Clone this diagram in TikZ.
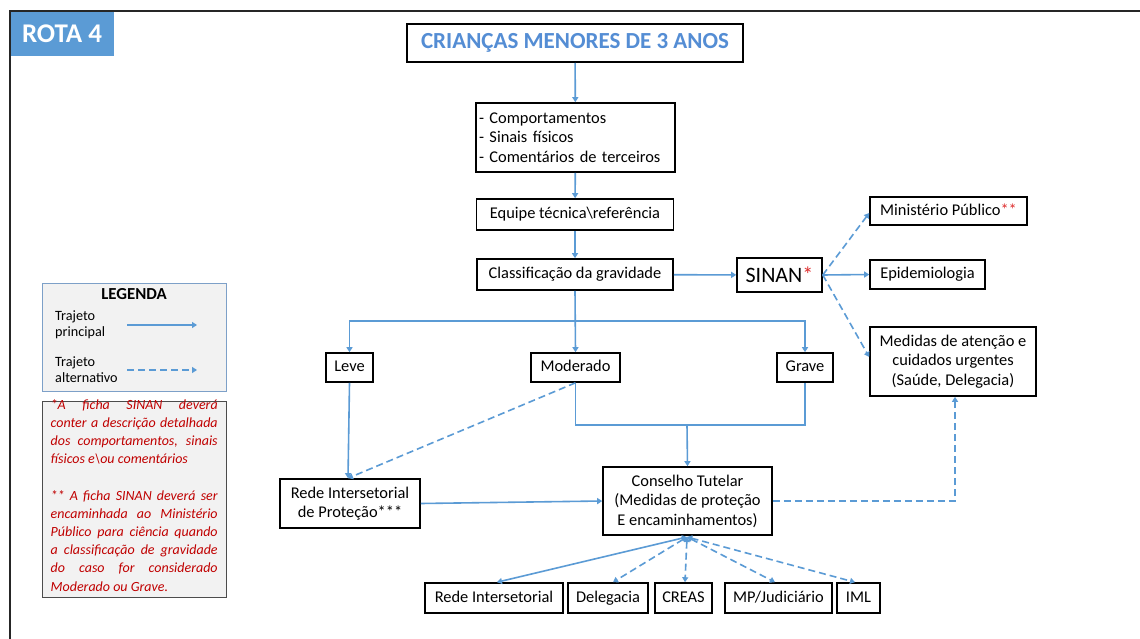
\documentclass[tikz,border=0pt]{standalone}
\usepackage{fontspec}
\setmainfont{Carlito}
\usetikzlibrary{arrows.meta}
\definecolor{lblue}{RGB}{91,155,213}
\definecolor{tblue}{RGB}{84,141,212}
\definecolor{ared}{RGB}{222,45,45}
\definecolor{nred}{RGB}{192,0,0}
\definecolor{lgray}{RGB}{242,242,242}
\definecolor{legborder}{RGB}{125,160,200}
\begin{document}
\hyphenpenalty=10000
\exhyphenpenalty=10000
\begin{tikzpicture}[x=1pt,y=-1pt,
  box/.style={draw=black, line width=1.6pt, fill=white, inner sep=0pt, align=center,
    font=\fontsize{16.4}{19.5}\selectfont, text=black},
  one/.style={box, text height=11.5pt, text depth=3.5pt},
  line/.style={draw=lblue, line width=1.6pt},
  arr/.style={line, -{Triangle[width=6pt,length=5pt]}},
  darr/.style={arr, dash pattern=on 7pt off 4pt},
  dbl/.style={line, {Triangle[width=6pt,length=5pt]}-{Triangle[width=6pt,length=5pt]}},
  ddbl/.style={dbl, dash pattern=on 7pt off 4pt}]
\useasboundingbox (0,0) rectangle (1140,639);
\fill[white] (0,0) rectangle (1140,639);
% frame
\draw[line width=2pt, black!85] (10,639) -- (10,11) -- (1140,11);
% ROTA 4
\node[fill=lblue, minimum width=103pt, minimum height=44pt, inner sep=0pt,
  text=white, font=\fontsize{27}{30}\selectfont\bfseries] (rota) at (62,34) {ROTA 4};
% title
\node[box, line width=2pt, minimum width=336pt, minimum height=38pt, text=tblue,
  font=\fontsize{23}{26}\selectfont\bfseries] (title) at (575,43) {CRIANÇAS MENORES DE 3 ANOS};
\node[box, minimum width=199pt, minimum height=69pt, align=left, text width=193pt] (comp) at (575.5,137.5)
  {- Comportamentos\\- Sinais físicos\\- Comentários de terceiros};
\node[one, minimum width=197pt, minimum height=31pt] (equipe) at (575,214.5) {Equipe técnica\textbackslash{}referência};
\node[one, minimum width=196pt, minimum height=31pt] (class) at (575,274.5) {Classificação da gravidade};
\node[box, minimum width=85pt, minimum height=34pt, font=\fontsize{22}{25}\selectfont] (sinan) at (779.5,275)
  {SINAN{\color{ared}*}};
\node[one, minimum width=157pt, minimum height=28pt] (mp) at (948.5,211) {Ministério Público{\color{ared}**}};
\node[one, minimum width=115pt, minimum height=29pt] (epi) at (927.5,274.5) {Epidemiologia};
\node[box, minimum width=166pt, minimum height=69pt] (med) at (953,361.5)
  {Medidas de atenção e\\cuidados urgentes\\(Saúde, Delegacia)};
\node[one, minimum width=47pt, minimum height=29pt] (leve) at (349.5,367.5) {Leve};
\node[one, minimum width=89pt, minimum height=29pt] (mod) at (575.5,367.5) {Moderado};
\node[one, minimum width=56pt, minimum height=29pt] (grave) at (805,367.5) {Grave};
\node[box, minimum width=140pt, minimum height=49pt] (rede) at (350,503.5)
  {Rede Intersetorial\\de Proteção***};
\node[box, minimum width=169pt, minimum height=68pt] (cons) at (687.5,501)
  {Conselho Tutelar\\(Medidas de proteção\\E encaminhamentos)};
\node[one, minimum width=138pt, minimum height=30pt] (ri) at (494,598) {Rede Intersetorial};
\node[one, minimum width=80pt, minimum height=30pt] (del) at (608,598) {Delegacia};
\node[one, minimum width=57pt, minimum height=30pt] (creas) at (683.5,598) {CREAS};
\node[one, minimum width=107pt, minimum height=30pt] (mpj) at (778.5,598) {MP/Judiciário};
\node[one, minimum width=43pt, minimum height=30pt] (iml) at (858.5,598) {IML};
% connectors
\draw[arr] (title) -- (comp);
\draw[arr] (comp) -- (equipe);
\draw[arr] (equipe) -- (class);
\draw[arr] (class) -- (sinan);
\draw[darr] (sinan.east) -- ([yshift=-2pt]mp.west);
\draw[arr] (sinan.east) -- (epi.west);
\draw[darr] (sinan.east) -- ([yshift=4.5pt]med.west);
\coordinate (br) at (575,321);
\draw[arr] (class.south) -- (mod.north);
\draw[arr] (br) -| (leve.north);
\draw[arr] (br) -| (grave.north);
\coordinate (jn) at (687,425);
\draw[line] (mod.south) |- (grave.south |- jn) -- (grave.south);
\draw[arr] (jn) -- (cons.north);
\draw[arr] (leve.south) -- ([xshift=-2pt]rede.north);
\draw[darr] (mod.south) -- ([xshift=-2pt]rede.north);
\draw[arr] (rede.east) -- (cons.west);
\draw[darr] (cons.east) -| ([xshift=2pt]med.south);
\coordinate (cb) at (687,537);
\draw[dbl] (cb) -- ([xshift=3pt]ri.north);
\draw[ddbl] (cb) -- ([xshift=5pt]del.north);
\draw[ddbl] (cb) -- ([xshift=1.5pt]creas.north);
\draw[ddbl] (cb) -- ([xshift=-3.5pt]mpj.north);
\draw[ddbl] (cb) -- ([xshift=-3.5pt]iml.north);
% legend
\node[draw=legborder, line width=1pt, fill=lgray, minimum width=184pt, minimum height=108pt, inner sep=0pt] (leg) at (134,337) {};
\node[font=\fontsize{16.8}{19}\selectfont\bfseries] (legt) at (134,294) {LEGENDA};
\node[anchor=west, align=left, inner sep=0pt, font=\fontsize{14.2}{15.7}\selectfont] (lp) at (55,325) {Trajeto\\principal};
\node[anchor=west, align=left, inner sep=0pt, font=\fontsize{14.2}{15.7}\selectfont] (la) at (55,370) {Trajeto\\alternativo};
\coordinate (lp1) at (127,325); \coordinate (lp2) at (197,325);
\coordinate (la1) at (127,370); \coordinate (la2) at (197,370);
\draw[arr] (lp1) -- (lp2);
\draw[darr] (la1) -- (la2);
% note
\node[draw=black!70, line width=1pt, fill=lgray, minimum width=184pt, minimum height=196pt, inner sep=0pt] (note) at (134,499) {};
\node[anchor=north west, inner sep=0pt, text width=167pt, align=justify, text=nred,
  font=\fontsize{14}{18.2}\selectfont\itshape] (notetext) at (50.5,399) {%
*A ficha SINAN deverá\linebreak conter a descrição detalhada\linebreak dos comportamentos, sinais\linebreak físicos e\textbackslash{}ou comentários\\[18.2pt]
** A ficha SINAN deverá ser\linebreak encaminhada ao Ministério\linebreak Público para ciência quando\linebreak a classificação de gravidade\linebreak do caso for considerado\linebreak Moderado ou Grave.};
\end{tikzpicture}
\end{document}
